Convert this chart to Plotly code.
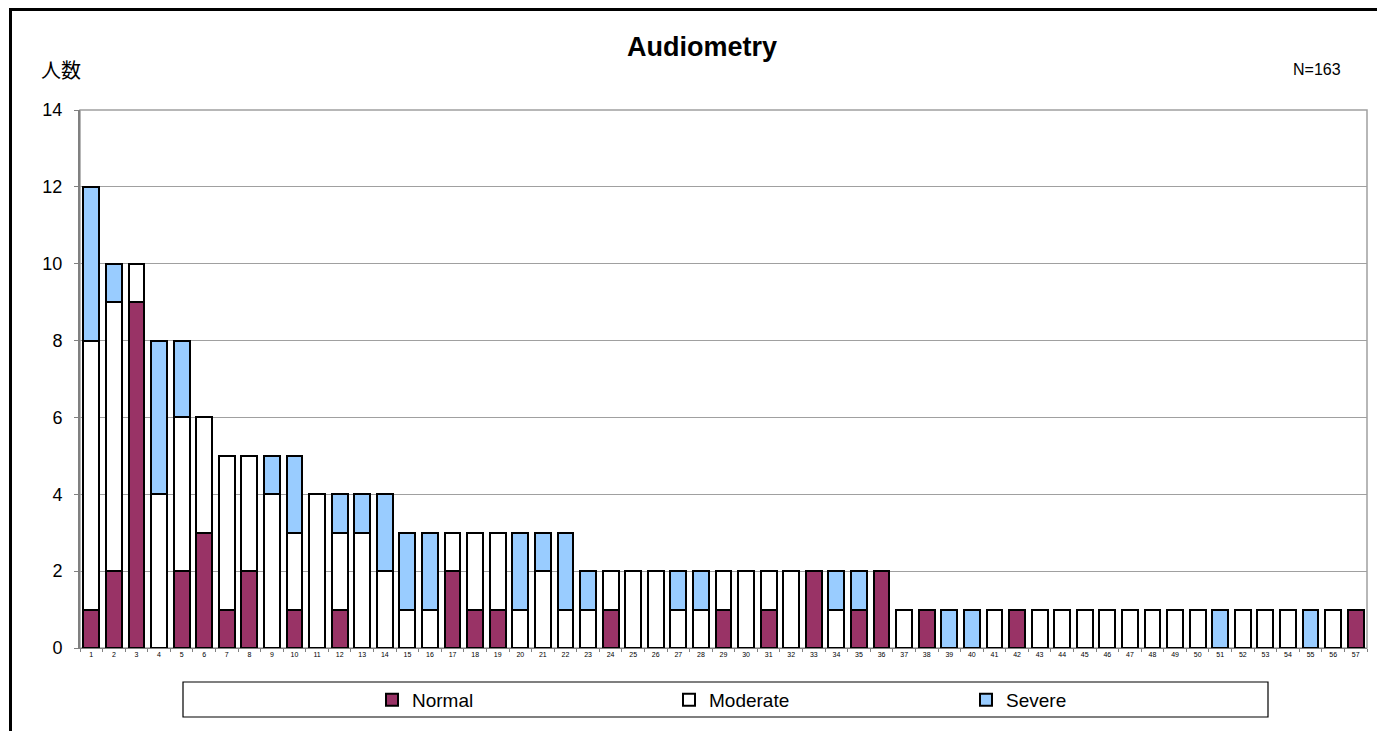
import plotly.graph_objects as go

categories = [str(i) for i in range(1, 58)]
normal = [1, 2, 9, 0, 2, 3, 1, 2, 0, 1, 0, 1, 0, 0, 0, 0, 2, 1, 1, 0, 0, 0, 0, 1,
          0, 0, 0, 0, 1, 0, 1, 0, 2, 0, 1, 2,
          0, 1, 0, 0, 0, 1, 0, 0, 0, 0, 0, 0, 0, 0, 0, 0, 0, 0, 0, 0, 1]
moderate = [7, 7, 1, 4, 4, 3, 4, 3, 4, 2, 4, 2, 3, 2, 1, 1, 1, 2, 2, 1, 2, 1, 1, 1,
            2, 2, 1, 1, 1, 2, 1, 2, 0, 1, 0, 0,
            1, 0, 0, 0, 1, 0, 1, 1, 1, 1, 1, 1, 1, 1, 0, 1, 1, 1, 0, 1, 0]
severe = [4, 1, 0, 4, 2, 0, 0, 0, 1, 2, 0, 1, 1, 2, 2, 2, 0, 0, 0, 2, 1, 2, 1, 0,
          0, 0, 1, 1, 0, 0, 0, 0, 0, 1, 1, 0,
          0, 0, 1, 1, 0, 0, 0, 0, 0, 0, 0, 0, 0, 0, 1, 0, 0, 0, 1, 0, 0]
y_ticks = [0, 2, 4, 6, 8, 10, 12, 14]

OFF = 8  # page body margin
W, H = 1385 - OFF, 731 - OFF
L, T = 80 - OFF, 110 - OFF
R = W - (1367 - OFF)
B = H - (648 - OFF)
pw, ph = W - L - R, H - T - B


def px(x):  # screen x -> paper
    return (x - OFF - L) / pw


def py(y):  # screen y -> paper
    return (H - B - (y - OFF)) / ph


font_main = "Liberation Sans, Arial, sans-serif"
line = dict(color="black", width=2)

fig = go.Figure()
for name, vals, color in [("Normal", normal, "#993366"),
                          ("Moderate", moderate, "#FFFFFF"),
                          ("Severe", severe, "#99CCFF")]:
    fig.add_trace(go.Bar(x=categories, y=vals, name=name,
                         marker=dict(color=color, line=line)))

fig.update_layout(
    width=W, height=H,
    barmode="stack", bargap=0.3,
    plot_bgcolor="white", paper_bgcolor="white",
    margin=dict(l=L, r=R, t=T, b=B),
    font=dict(family=font_main, color="black"),
    title=dict(text="<b>Audiometry</b>", xref="container",
               x=(702 - OFF) / W, xanchor="center",
               yref="container", y=1 - (47 - OFF) / H, yanchor="middle",
               font=dict(size=27, family=font_main, color="black")),
    showlegend=True,
    legend=dict(orientation="h", x=px(372), xanchor="left",
                y=py(700), yanchor="middle",
                entrywidth=252, entrywidthmode="pixels",
                bgcolor="rgba(0,0,0,0)", borderwidth=0,
                font=dict(size=19, family=font_main), traceorder="normal"),
    xaxis=dict(type="category", tickfont=dict(size=7, family=font_main),
               showgrid=False, showline=True, linecolor="#808080", linewidth=1,
               ticks="outside", tickson="boundaries", ticklen=3,
               tickcolor="#808080", range=[-0.5, 56.5]),
    yaxis=dict(range=[0, 14], tickvals=y_ticks, showgrid=True,
               gridcolor="#A0A0A0", gridwidth=1, showline=True,
               linecolor="#808080", linewidth=2, ticks="outside", ticklen=4,
               tickcolor="#808080", ticklabelstandoff=8,
               tickfont=dict(size=18, family=font_main),
               zeroline=False),
    shapes=[
        dict(type="rect", xref="paper", yref="paper", x0=0, y0=0, x1=1, y1=1,
             line=dict(color="#A0A0A0", width=1.5), layer="below"),
        dict(type="rect", xref="paper", yref="paper",
             x0=px(183), x1=px(1268), y0=py(682), y1=py(717),
             line=dict(color="black", width=1.2), fillcolor="rgba(0,0,0,0)"),
        dict(type="line", xref="paper", yref="paper",
             x0=px(10), x1=px(1390), y0=py(9.5), y1=py(9.5),
             line=dict(color="black", width=3)),
        dict(type="line", xref="paper", yref="paper",
             x0=px(10.5), x1=px(10.5), y0=py(8), y1=py(740),
             line=dict(color="black", width=3)),
    ],
    annotations=[
        dict(text="人数", xref="paper", yref="paper", x=px(39), y=py(70),
             xanchor="left", yanchor="middle", showarrow=False,
             font=dict(size=20, family="Noto Sans CJK JP", color="black")),
        dict(text="N=163", xref="paper", yref="paper", x=px(1343), y=py(70),
             xanchor="right", yanchor="middle", showarrow=False,
             font=dict(size=16, family=font_main, color="black")),
    ],
)

fig.write_html("out.html")
